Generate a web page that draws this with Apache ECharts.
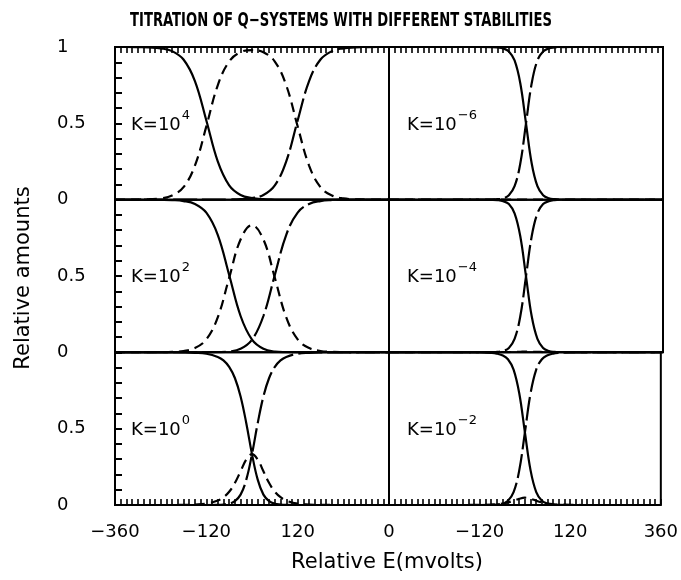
<!DOCTYPE html>
<html><head><meta charset="utf-8">
<script src="https://cdn.jsdelivr.net/npm/echarts@6/dist/echarts.min.js"></script>
<style>html,body{margin:0;padding:0;background:#fff}#c{width:681px;height:580px}</style>
</head><body><div id="c"></div>
<script>
// ---- data ----
const xLeft = [-360,-330,-300,-270,-240,-210,-180,-150,-120,-90,-60,-30,0,30,60,90,120,150,180,210,240,270,300,330,360];
const xLeft0 = [-360,-300,-240,-180,-150,-120,-90,-75,-60,-45,-30,-15,0,15,30,45,60,75,90,120,150,180,240,300,360];
const xRight = [-360,-300,-240,-180,-120,-90,-75,-60,-45,-30,-15,0,15,30,45,60,75,90,120,180,240,300,360];

// K = 10^4
const Q_k4  = [1,1,0.999,0.997,0.991,0.973,0.918,0.777,0.519,0.251,0.094,0.031,0.010,0.003,0.001,0,0,0,0,0,0,0,0,0,0];
const SQ_k4 = [0,0,0.001,0.003,0.008,0.027,0.082,0.223,0.480,0.749,0.905,0.966,0.980,0.966,0.905,0.749,0.480,0.223,0.082,0.027,0.008,0.003,0.001,0,0];
const QH_k4 = [0,0,0,0,0,0,0,0,0,0,0.001,0.003,0.010,0.031,0.094,0.251,0.519,0.777,0.918,0.973,0.991,0.997,0.999,1,1];
// K = 10^2
const Q_k2  = [1,1,1,1,0.999,0.997,0.991,0.972,0.915,0.770,0.507,0.238,0.083,0.023,0.005,0.001,0,0,0,0,0,0,0,0,0];
const SQ_k2 = [0,0,0,0,0.001,0.003,0.009,0.028,0.085,0.229,0.488,0.739,0.833,0.739,0.488,0.229,0.085,0.028,0.009,0.003,0.001,0,0,0,0];
const QH_k2 = [0,0,0,0,0,0,0,0,0,0.001,0.005,0.023,0.083,0.238,0.507,0.770,0.915,0.972,0.991,0.997,0.999,1,1,1,1];
// K = 10^0
const Q_k0  = [1,1,1,0.999,0.997,0.991,0.970,0.947,0.905,0.832,0.711,0.536,0.333,0.166,0.068,0.025,0.008,0.003,0.001,0,0,0,0,0,0];
const SQ_k0 = [0,0,0,0.001,0.003,0.009,0.029,0.051,0.087,0.144,0.221,0.298,0.333,0.298,0.221,0.144,0.087,0.051,0.029,0.009,0.003,0.001,0,0,0];
const QH_k0 = [0,0,0,0,0,0,0.001,0.003,0.008,0.025,0.068,0.166,0.333,0.536,0.711,0.832,0.905,0.947,0.970,0.991,0.997,0.999,1,1,1];
// K = 10^-6
const Q_km6  = [1,1,1,1,1,0.999,0.997,0.991,0.971,0.912,0.763,0.500,0.237,0.088,0.029,0.009,0.003,0.001,0,0,0,0,0];
const SQ_km6 = [0,0,0,0,0,0,0,0,0,0,0,0.001,0,0,0,0,0,0,0,0,0,0,0];
const QH_km6 = [0,0,0,0,0,0.001,0.003,0.009,0.029,0.088,0.237,0.500,0.763,0.912,0.971,0.991,0.997,0.999,1,1,1,1,1];
// K = 10^-4
const Q_km4  = [1,1,1,1,1,0.999,0.997,0.990,0.971,0.910,0.760,0.498,0.236,0.088,0.029,0.009,0.003,0.001,0,0,0,0,0];
const SQ_km4 = [0,0,0,0,0,0,0,0.001,0.002,0.003,0.004,0.005,0.004,0.003,0.002,0.001,0,0,0,0,0,0,0];
const QH_km4 = [0,0,0,0,0,0.001,0.003,0.009,0.029,0.088,0.236,0.498,0.760,0.910,0.971,0.990,0.997,0.999,1,1,1,1,1];
// K = 10^-2
const Q_km2  = [1,1,1,1,0.999,0.996,0.992,0.981,0.955,0.887,0.732,0.476,0.227,0.085,0.028,0.009,0.003,0.001,0,0,0,0,0];
const SQ_km2 = [0,0,0,0,0.001,0.003,0.005,0.009,0.017,0.028,0.041,0.048,0.041,0.028,0.017,0.009,0.005,0.003,0.001,0,0,0,0];
const QH_km2 = [0,0,0,0,0,0.001,0.003,0.009,0.028,0.085,0.227,0.476,0.732,0.887,0.955,0.981,0.992,0.996,0.999,1,1,1,1];

const panelLabels = [['10','4'],['10','\u22126'],['10','2'],['10','\u22124'],['10','0'],['10','\u22122']];
const xTickLabelsLeft  = {'-360':'\u2212360','-120':'\u2212120','120':'120','360':'0'};
const xTickLabelsRight = {'-120':'\u2212120','120':'120','360':'360'};
const yTickLabels = {'0':'0','0.5':'0.5','1':'1'};
const titleText = 'TITRATION OF Q\u2212SYSTEMS WITH DIFFERENT STABILITIES';
const xName = 'Relative E(mvolts)';
const yName = 'Relative amounts';

// ---- layout ----
const L = 115, W = 274, T = 47, H = 152.67;
const panels = [
  {row:0,col:0,x:xLeft, q:Q_k4, s:SQ_k4, r:QH_k4},
  {row:0,col:1,x:xRight,q:Q_km6,s:SQ_km6,r:QH_km6},
  {row:1,col:0,x:xLeft, q:Q_k2, s:SQ_k2, r:QH_k2},
  {row:1,col:1,x:xRight,q:Q_km4,s:SQ_km4,r:QH_km4},
  {row:2,col:0,x:xLeft0,q:Q_k0, s:SQ_k0, r:QH_k0},
  {row:2,col:1,x:xRight,q:Q_km2,s:SQ_km2,r:QH_km2}
];
const F = '"DejaVu Sans", Verdana, sans-serif';
const grids=[], xAxes=[], yAxes=[], series=[], graphics=[];
panels.forEach((p,i)=>{
  grids.push({left:L+p.col*W, top:T+p.row*H, width:W, height:H, show:true,
    borderColor:'#000', borderWidth:2, backgroundColor:'transparent', containLabel:false});
  const showX = p.row!==1;
  xAxes.push({type:'value', gridIndex:i, min:-360, max:360, interval:120,
    position: p.row===0?'top':'bottom', show: showX,
    axisLine:{show:false, onZero:false},
    axisTick:{show:true, inside:true, length:6, lineStyle:{color:'#000',width:1.6}},
    minorTick:{show:true, splitNumber:8, length:6, lineStyle:{color:'#000',width:1.6}},
    splitLine:{show:false}, minorSplitLine:{show:false},
    axisLabel:{show:p.row===2, margin:18, color:'#000', fontSize:18, fontFamily:F,
      formatter:v=>{const m=p.col===0?xTickLabelsLeft:xTickLabelsRight; return m[String(v)]||'';}}
  });
  yAxes.push({type:'value', gridIndex:i, min:0, max:1, interval:0.1, show:p.col===0,
    axisLine:{show:false, onZero:false},
    axisTick:{show:true, inside:true, length:7, lineStyle:{color:'#000',width:2}},
    splitLine:{show:false},
    axisLabel:{show:true, align:'left', margin:58, color:'#000', fontSize:18, fontFamily:F,
      formatter:v=>{const k=String(Math.round(v*10)/10); if(k==='1'&&p.row!==0) return ''; return yTickLabels[k]||'';}}
  });
  const mk=(arr,dash)=>({type:'line', xAxisIndex:i, yAxisIndex:i, smooth:0.4, showSymbol:false, symbol:'none',
    data:p.x.map((xx,j)=>[xx,arr[j]]), lineStyle:{color:'#000', width:2.2, type:dash}, silent:true, animation:false});
  series.push(mk(p.q,'solid'), mk(p.s,[10,6]), mk(p.r,[24,5]));
  const lab=panelLabels[i];
  graphics.push({type:'text', x:(p.col===0?131:407), y:T+p.row*H+H/2-2,
    style:{text:'{a|K=' + lab[0] + '}{b|' + lab[1] + '}', verticalAlign:'middle', align:'left',
      rich:{a:{fontSize:18, fontFamily:F, fill:'#000', lineHeight:25, verticalAlign:'bottom'},
            b:{fontSize:13, fontFamily:F, fill:'#000', lineHeight:25, verticalAlign:'top', padding:[0,0,0,1]}}}});
});
graphics.push({type:'text', x:341, y:21, scaleX:0.77, style:{text:titleText, align:'center', verticalAlign:'middle',
  fontSize:19, fontWeight:'bold', fontFamily:'"Liberation Sans Narrow","DejaVu Sans Condensed","Liberation Sans",sans-serif', fill:'#000'}});
graphics.push({type:'text', x:387, y:563, style:{text:xName, align:'center', verticalAlign:'middle',
  fontSize:21, fontFamily:F, fill:'#000'}});
graphics.push({type:'text', x:24, y:278, rotation:Math.PI/2, style:{text:yName, align:'center', verticalAlign:'middle',
  fontSize:21, fontFamily:F, fill:'#000'}});

const chart = echarts.init(document.getElementById('c'), null, {renderer:'canvas'});
chart.setOption({animation:false, backgroundColor:'#fff', grid:grids, xAxis:xAxes, yAxis:yAxes, series:series, graphic:graphics});
</script></body></html>
